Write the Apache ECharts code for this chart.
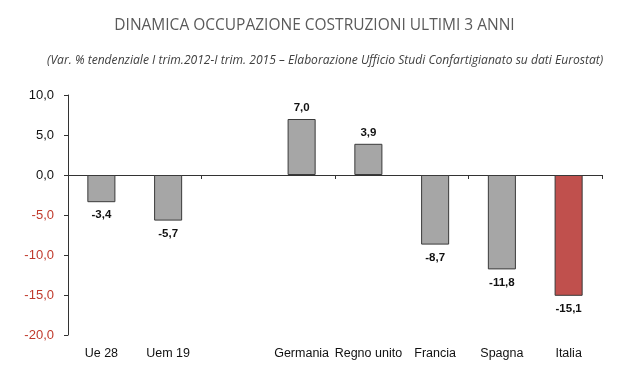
<!DOCTYPE html>
<html><head><meta charset="utf-8">
<script src="https://cdn.jsdelivr.net/npm/echarts@6/dist/echarts.min.js"></script>
<style>html,body{margin:0;padding:0;background:#fff}#c{width:629px;height:381px}</style>
</head><body><div id="c"></div>
<script>
const categories = ['Ue 28', 'Uem 19', '', 'Germania', 'Regno unito', 'Francia', 'Spagna', 'Italia'];
const values = [-3.4, -5.7, null, 7.0, 3.9, -8.7, -11.8, -15.1];
const highlight = ['Italia'];
const titleText = 'DINAMICA OCCUPAZIONE COSTRUZIONI ULTIMI 3 ANNI';
const subtitleText = '(Var. % tendenziale I trim.2012-I trim. 2015 \u2013 Elaborazione Ufficio Studi Confartigianato su dati Eurostat)';

const fmt = v => v.toFixed(1).replace('.', ',');
const chart = echarts.init(document.getElementById('c'), null, {renderer: 'canvas'});
const data = values.map((v, i) => v === null ? null : {
  value: v,
  itemStyle: highlight.includes(categories[i]) ? {color: '#c0504d', borderColor: '#3a3a3a'} : {},
  label: {position: v >= 0 ? 'top' : 'bottom', distance: v >= 0 ? 5 : 7}
});
chart.setOption({
  animation: false,
  title: [
    {text: titleText, left: 'center', top: 13,
     textStyle: {fontFamily: 'Open Sans', fontWeight: 'normal', fontSize: 15.5, color: '#5a5a5a'}},
    {text: subtitleText, left: 42, top: 50,
     textStyle: {fontFamily: 'Open Sans', fontStyle: 'italic', fontWeight: 'normal', fontSize: 12.1, color: '#404040'}}
  ],
  grid: {left: 68, right: 27, top: 95, bottom: 46},
  xAxis: [
    {type: 'category', data: categories, position: 'bottom',
     axisLine: {onZero: true, lineStyle: {color: '#333', width: 1}},
     axisTick: {show: true, length: 4, lineStyle: {color: '#333'}},
     axisLabel: {show: false}},
    {type: 'category', data: categories, position: 'bottom',
     axisLine: {show: false, onZero: false}, axisTick: {show: false},
     axisLabel: {interval: 0, margin: 12, fontFamily: 'Liberation Sans', fontSize: 12.5, color: '#111'}}
  ],
  yAxis: {
    type: 'value', min: -20, max: 10, interval: 5,
    axisLine: {show: true, lineStyle: {color: '#333'}},
    axisTick: {show: true, length: 4, lineStyle: {color: '#333'}},
    splitLine: {show: false},
    axisLabel: {margin: 14, fontFamily: 'Liberation Sans', fontSize: 13,
      formatter: v => fmt(v),
      color: v => (v < 0 ? '#c0392b' : '#111')}
  },
  series: [{
    type: 'bar', data: data, barWidth: '42%', xAxisIndex: 0,
    itemStyle: {color: '#a6a6a6', borderColor: '#3a3a3a', borderWidth: 1},
    label: {show: true, formatter: p => fmt(p.value), fontFamily: 'Liberation Sans',
      fontWeight: 'bold', fontSize: 11.5, color: '#111'}
  }]
});
</script></body></html>
